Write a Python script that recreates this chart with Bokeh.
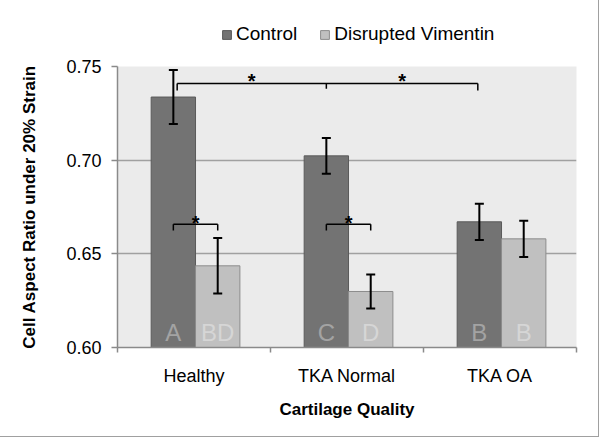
import numpy as np
from bokeh.plotting import figure
from bokeh.layouts import column
from bokeh.models import (ColumnDataSource, FixedTicker, Legend, LegendItem,
                          Whisker, TeeHead, Range1d)
from bokeh.core.properties import value
from bokeh.embed import file_html
from bokeh.resources import INLINE

# ---- data ----
categories = ["Healthy", "TKA Normal", "TKA OA"]
control = [0.7337, 0.7023, 0.6671]
control_err = [0.0144, 0.0095, 0.0097]
disrupted = [0.6436, 0.6299, 0.6580]
disrupted_err = [0.0148, 0.0091, 0.0097]
control_letters = ["A", "C", "B"]
disrupted_letters = ["BD", "D", "B"]
series_names = ["Control", "Disrupted Vimentin"]
y_ticks = [0.60, 0.65, 0.70, 0.75]
# significance brackets (category indices and bracket height in data units)
big_bracket_cats = [0, 1, 2]
big_bracket_y = 0.7409
small_bracket_cats = [0, 1]
small_bracket_y = 0.6658

FONT = "Liberation Sans"
ctrl_col = "#737373"
dv_col = "#c0c0c0"

idx = np.arange(len(categories))
off_c, off_d, bw = 0.365, 0.655, 0.29
xc = idx + off_c
xd = idx + off_d

# ---------- main plot ----------
p = figure(width=598, height=380, output_backend="svg", toolbar_location=None,
           x_range=Range1d(0, 3), y_range=Range1d(0.60, 0.75),
           min_border_left=117, min_border_right=22, min_border_top=10, min_border_bottom=89)
p.background_fill_color = "#ebebeb"
p.border_fill_color = "white"
p.outline_line_color = None

src_c = ColumnDataSource(dict(x=xc, top=control, up=np.array(control) + control_err,
                              lo=np.array(control) - control_err, lab=control_letters))
src_d = ColumnDataSource(dict(x=xd, top=disrupted, up=np.array(disrupted) + disrupted_err,
                              lo=np.array(disrupted) - disrupted_err, lab=disrupted_letters))

p.vbar(x="x", top="top", bottom=0.60, width=bw, source=src_c,
       fill_color=ctrl_col, line_color="#5a5a5a", line_width=1)
p.vbar(x="x", top="top", bottom=0.60, width=bw, source=src_d,
       fill_color=dv_col, line_color="#8c8c8c", line_width=1)

p.text(x="x", y=0.6008, text="lab", source=src_c, text_align="center",
       text_baseline="bottom", text_font=value(FONT), text_font_size="24px",
       text_color="#a3a3a3")
p.text(x="x", y=0.6008, text="lab", source=src_d, text_align="center",
       text_baseline="bottom", text_font=value(FONT), text_font_size="24px",
       text_color="#d6d6d6")

for src in (src_c, src_d):
    w = Whisker(base="x", upper="up", lower="lo", source=src, line_color="black", line_width=2,
                level="overlay",
                upper_head=TeeHead(size=9, line_width=2, line_color="black"),
                lower_head=TeeHead(size=9, line_width=2, line_color="black"))
    p.add_layout(w)

star_kw = dict(text_align="center", text_baseline="bottom", text_font=value(FONT),
               text_font_size="20px", text_font_style="bold", text_color="black")

# big bracket across the control bars
bx = [big_bracket_cats[0] + off_c + 0.025, big_bracket_cats[1] + off_c,
      big_bracket_cats[2] + off_c - 0.01]
by = big_bracket_y
p.line([bx[0], bx[-1]], [by, by], line_color="black", line_width=1.5)
p.segment(x0=bx, y0=[by] * 3, x1=bx, y1=[by - 0.0037, by - 0.0028, by - 0.0037],
          line_color="black", line_width=1.5)
p.text(x=[(bx[0] + bx[1]) / 2, (bx[1] + bx[2]) / 2], y=[by - 0.0045] * 2,
       text=["*", "*"], **star_kw)

# small brackets control vs disrupted
for c in small_bracket_cats:
    x0, x1 = c + off_c, c + off_d
    sy = small_bracket_y
    p.line([x0, x1], [sy, sy], line_color="black", line_width=1.5)
    p.segment(x0=[x0, x1], y0=[sy] * 2, x1=[x0, x1], y1=[sy - 0.0034] * 2,
              line_color="black", line_width=1.5)
    p.text(x=[(x0 + x1) / 2], y=[sy - 0.0054], text=["*"], **star_kw)

# grid
p.xgrid.grid_line_color = None
p.ygrid.ticker = FixedTicker(ticks=y_ticks)
p.ygrid.grid_line_color = "#a0a0a0"
p.ygrid.grid_line_width = 1.5

# axes
p.yaxis.ticker = FixedTicker(ticks=y_ticks)
p.yaxis.major_label_overrides = {t: f"{t:.2f}" for t in y_ticks}
p.yaxis.axis_label = "Cell Aspect Ratio under 20% Strain"
p.xaxis.ticker = FixedTicker(ticks=list(idx + 0.5), minor_ticks=list(range(len(categories) + 1)))
p.xaxis.major_label_overrides = {float(i + 0.5): c for i, c in enumerate(categories)}
p.xaxis.axis_label = "Cartilage Quality"
for ax in (p.xaxis, p.yaxis):
    ax.axis_line_color = "#8a8a8a"
    ax.axis_line_width = 1.5
    ax.major_label_text_font = FONT
    ax.major_label_text_font_size = "18px"
    ax.major_label_text_color = "black"
    ax.axis_label_text_font = FONT
    ax.axis_label_text_font_size = "17px"
    ax.axis_label_text_font_style = "bold"
    ax.axis_label_text_color = "black"
p.xaxis.major_tick_line_color = None
p.xaxis.minor_tick_in = 0
p.xaxis.minor_tick_out = 5
p.xaxis.minor_tick_line_color = "#8a8a8a"
p.xaxis.minor_tick_line_width = 1.5
p.xaxis.major_label_standoff = 12
p.xaxis.axis_label_standoff = 11
p.yaxis.major_tick_in = 0
p.yaxis.major_tick_out = 6
p.yaxis.major_tick_line_color = "#8a8a8a"
p.yaxis.major_tick_line_width = 1.5
p.yaxis.minor_tick_line_color = None
p.yaxis.major_label_standoff = 10
p.yaxis.axis_label_standoff = 24

# ---------- legend strip (frame is aligned with the main plot's frame) ----------
lf = figure(width=598, height=56, output_backend="svg", toolbar_location=None,
            x_range=Range1d(0, 1), y_range=Range1d(1, 2),
            x_axis_location=None, y_axis_location=None,
            min_border_left=117, min_border_right=22, min_border_top=0, min_border_bottom=0)
lf.outline_line_color = None
lf.background_fill_color = "white"
lf.border_fill_color = "white"
lf.xgrid.visible = False
lf.ygrid.visible = False
# legend proxies (zero-size, outside the visible range; only their legend swatches show)
lc = lf.vbar(x=[0], top=[0], bottom=[0], width=0, fill_color=ctrl_col, line_color="#5a5a5a")
ld = lf.vbar(x=[0], top=[0], bottom=[0], width=0, fill_color=dv_col, line_color="#8c8c8c")
legend = Legend(items=[LegendItem(label=series_names[0], renderers=[lc]),
                       LegendItem(label=series_names[1], renderers=[ld])],
                orientation="horizontal", location=(104, 11),
                label_text_font=FONT, label_text_font_size="19px", label_text_color="black",
                label_height=20, glyph_width=11, glyph_height=11, label_standoff=4,
                spacing=22, border_line_color=None, background_fill_alpha=0,
                padding=0, margin=0)
lf.add_layout(legend, "center")

layout = column(lf, p, spacing=0, styles={"outline": "1.5px solid #a0a0a0"})

open("out.html", "w").write(file_html(layout, INLINE))
